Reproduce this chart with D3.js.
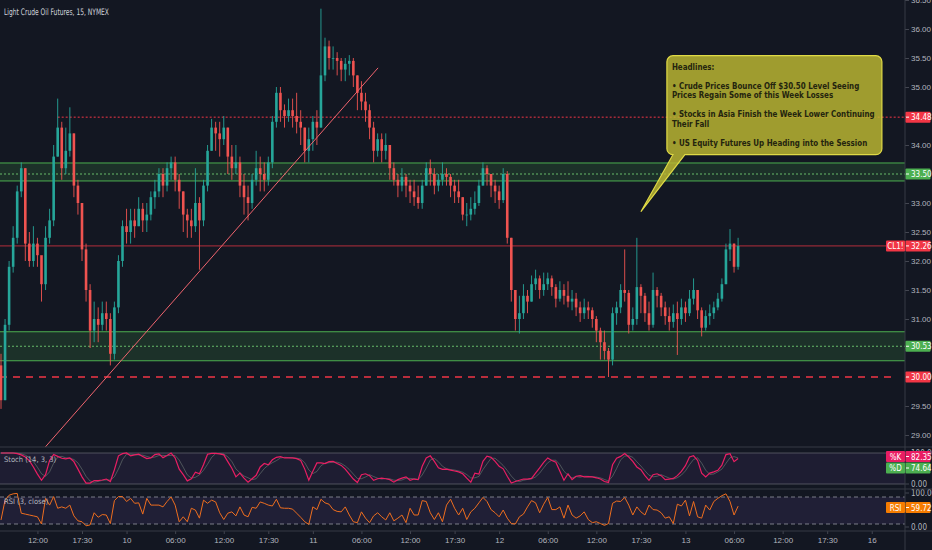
<!DOCTYPE html>
<html>
<head>
<meta charset="utf-8">
<script src="https://cdn.jsdelivr.net/npm/d3@7"></script>
<style>
  html, body { margin: 0; padding: 0; background: #131722; }
  svg { display: block; font-family: "Liberation Sans Narrow", "DejaVu Sans Condensed", sans-serif; }
  .axis text { fill: #b2b5be; font-size: 8px; }
  .axis path, .axis line { stroke: #434651; }
  .pane-label { fill: #b2b5be; font-size: 7.5px; }
</style>
</head>
<body>
<svg id="chart" width="932" height="550"></svg>
<script>
"use strict";

// 30 minute bars, open of each bar is the previous close
var firstOpen = 30.2;
var closes = [
  29.6, 30.9, 31.9, 32.4, 33.2, 33.6, 32.3, 32.0, 32.3, 32.1,
  31.6, 32.4, 32.7, 33.8, 34.3, 33.6, 33.9, 34.2, 33.3, 33.0,
  32.2, 31.5, 30.8, 31.0, 30.9, 31.1, 31.0, 30.4, 31.2, 32.0,
  32.6, 32.5, 32.7, 32.6, 32.9, 32.7, 32.8, 33.1, 33.2, 33.5,
  33.3, 33.6, 33.7, 33.4, 33.2, 32.8, 32.7, 32.6, 33.0, 32.7,
  33.3, 33.9, 34.3, 34.2, 34.1, 34.3, 33.8, 33.6, 33.7, 33.3,
  33.1, 33.0, 33.4, 33.6, 33.5, 33.4, 33.7, 34.4, 34.9, 34.6,
  34.5, 34.6, 34.5, 34.4, 34.3, 33.9, 34.1, 34.4, 34.3, 35.2,
  35.7, 35.5, 35.5, 35.45, 35.3, 35.4, 35.45, 35.2, 34.9, 34.75,
  34.6, 34.3, 33.9, 34.1, 33.9, 34.0, 33.6, 33.4, 33.3, 33.45,
  33.3, 33.2, 33.1, 33.0, 33.3, 33.6, 33.5, 33.3, 33.4, 33.5,
  33.45, 33.3, 33.2, 33.1, 32.8, 32.8, 32.9, 33.0, 33.3, 33.6,
  33.5, 33.3, 33.2, 33.05, 33.5, 32.4, 31.5, 31.0, 31.1, 31.4,
  31.3, 31.6, 31.7, 31.5, 31.6, 31.7, 31.55, 31.35, 31.5, 31.4,
  31.3, 31.35, 31.2, 31.1, 31.2, 31.15, 31.0, 30.8, 30.6, 30.45,
  30.3, 31.1, 31.2, 31.5, 31.45, 30.9, 31.0, 31.55, 31.4, 31.1,
  30.9, 31.5, 31.4, 31.2, 31.05, 30.95, 31.1, 31.0, 31.2, 31.1,
  31.35, 31.5, 31.15, 30.85, 31.05, 31.1, 31.2, 31.35, 31.6, 32.2,
  32.3, 31.9, 32.26
];
var highs = [
  30.4, 31.0, 32.0, 32.6, 33.3, 33.7, 33.6, 32.5, 32.6, 32.4,
  32.0, 32.6, 32.9, 34.0, 34.8, 34.4, 34.3, 34.65, 34.2, 33.4,
  33.0, 32.3, 31.6, 31.3, 31.2, 31.3, 31.3, 31.1, 31.3, 32.1,
  32.7, 32.9, 32.9, 32.9, 33.1, 33.0, 33.0, 33.2, 33.4, 33.6,
  33.6, 33.7, 33.8, 33.8, 33.5, 33.2, 32.9, 32.9, 33.6, 33.1,
  33.4, 34.0, 34.45, 34.4, 34.4, 34.5, 34.3, 34.0, 34.0, 33.8,
  33.5, 33.3, 33.5, 33.9, 33.8, 33.7, 33.8, 34.5, 35.0, 35.0,
  34.7, 34.8, 34.8, 34.9, 34.6, 34.3, 34.3, 34.5, 34.6, 36.35,
  35.85, 35.8, 35.7, 35.6, 35.5, 35.5, 35.55, 35.5, 35.2, 35.1,
  34.9, 34.7, 34.4, 34.2, 34.2, 34.2, 34.0, 33.7, 33.5, 33.6,
  33.5, 33.4, 33.4, 33.3, 33.4, 33.7, 33.75, 33.6, 33.5, 33.7,
  33.6, 33.5, 33.4, 33.4, 33.1, 33.0, 33.1, 33.2, 33.4, 33.7,
  33.65, 33.5, 33.4, 33.3, 33.6, 33.55, 32.4, 31.5, 31.4, 31.6,
  31.5, 31.75, 31.85, 31.75, 31.8, 31.8, 31.75, 31.6, 31.65, 31.6,
  31.65, 31.5, 31.45, 31.3, 31.35, 31.3, 31.2, 31.05, 30.85, 30.8,
  30.5, 31.2, 31.3, 31.6, 32.2, 31.5, 31.2, 32.4, 31.6, 31.45,
  31.3, 31.8, 31.55, 31.45, 31.3, 31.2, 31.25, 31.3, 31.35, 31.3,
  31.5, 31.7, 31.5, 31.2, 31.15, 31.25, 31.3, 31.45, 31.7, 32.3,
  32.55, 32.3, 32.4
];
var lows = [
  29.45, 29.6, 30.8, 31.8, 32.3, 33.1, 32.0, 31.9, 31.9, 31.9,
  31.3, 31.5, 32.3, 32.6, 33.8, 33.4, 33.5, 33.8, 33.1, 32.8,
  32.0, 31.3, 30.5, 30.6, 30.6, 30.8, 30.8, 30.2, 30.3, 31.1,
  31.9, 32.3, 32.3, 32.4, 32.6, 32.5, 32.5, 32.7, 32.9, 33.1,
  33.1, 33.2, 33.4, 33.2, 32.9, 32.5, 32.4, 32.4, 32.5, 31.85,
  32.6, 33.2, 33.9, 33.9, 33.8, 34.0, 33.5, 33.4, 33.5, 33.1,
  32.8, 32.7, 32.9, 33.3, 33.2, 33.2, 33.3, 33.6, 34.3, 34.4,
  34.3, 34.4, 34.3, 34.2, 34.0, 33.7, 33.7, 33.9, 34.0, 34.3,
  35.1, 35.3, 35.3, 35.2, 35.1, 35.1, 35.2, 35.0, 34.6, 34.6,
  34.4, 34.1, 33.7, 33.8, 33.7, 33.75, 33.4, 33.3, 33.1, 33.2,
  33.1, 33.0, 32.95, 32.9, 32.9, 33.3, 33.3, 33.15, 33.2, 33.3,
  33.3, 33.1, 33.0, 33.0, 32.7, 32.6, 32.7, 32.8, 32.95, 33.3,
  33.3, 33.1, 33.0, 32.9, 33.0, 32.3, 31.3, 30.8, 30.75, 31.0,
  31.1, 31.3, 31.5, 31.35, 31.4, 31.5, 31.4, 31.2, 31.3, 31.25,
  31.2, 31.15, 31.05, 30.95, 31.0, 31.0, 30.85, 30.6, 30.3, 30.3,
  30.0, 30.2, 30.9, 31.1, 31.3, 30.75, 30.8, 30.9, 31.1, 30.95,
  30.8, 30.85, 31.2, 31.05, 30.9, 30.8, 30.85, 30.38, 30.9, 30.95,
  31.05, 31.25, 31.0, 30.7, 30.8, 30.9, 31.0, 31.15, 31.3, 31.6,
  32.0, 31.8, 31.85
];

// indicator readings, one per bar
var stochK = [
  100, 100, 100, 100, 98, 94, 87, 75, 55, 32,
  12, 30, 76, 95, 89, 83, 81, 84, 72, 48,
  23, 3, 3, 11, 11, 13, 16, 8, 46, 91,
  98, 100, 91, 94, 96, 89, 82, 84, 95, 97,
  85, 92, 100, 84, 48, 30, 10, 17, 38, 33,
  62, 96, 99, 99, 97, 94, 72, 51, 23, 35,
  19, 6, 17, 28, 55, 66, 62, 78, 86, 88,
  84, 84, 84, 82, 76, 48, 12, 41, 68, 68,
  66, 72, 73, 66, 60, 48, 32, 16, 5, 30,
  33, 27, 12, 17, 19, 17, 14, 6, 14, 19,
  23, 12, 16, 14, 57, 84, 91, 73, 52, 47,
  48, 45, 42, 39, 33, 19, 6, 35, 32, 73,
  90, 86, 73, 57, 49, 25, 3, 8, 12, 16,
  16, 18, 35, 52, 70, 84, 76, 70, 41, 12,
  33, 14, 25, 27, 23, 24, 23, 20, 16, 8,
  5, 62, 83, 89, 98, 87, 73, 55, 46, 27,
  12, 30, 33, 27, 14, 16, 18, 27, 41, 59,
  87, 91, 76, 35, 23, 35, 39, 44, 61, 95,
  98, 72, 82.35
];
var rsi = [
  29, 73, 84, 87, 88, 44, 42, 40, 38, 36,
  20, 77, 62, 81, 55, 58, 55, 62, 38, 27,
  25, 16, 18, 45, 35, 41, 40, 21, 72, 81,
  81, 70, 77, 66, 67, 42, 77, 62, 62, 62,
  58, 70, 80, 62, 25, 36, 25, 55, 51, 33,
  73, 66, 73, 69, 45, 30, 44, 47, 38, 58,
  40, 36, 57, 55, 69, 66, 62, 60, 75, 56,
  55, 55, 53, 44, 35, 25, 19, 58, 52, 75,
  67, 64, 52, 48, 47, 58, 40, 25, 23, 47,
  33, 23, 38, 45, 36, 29, 45, 27, 33, 40,
  23, 55, 40, 40, 72, 70, 45, 30, 45, 25,
  62, 75, 55, 40, 55, 30, 47, 55, 67, 79,
  70, 52, 45, 36, 51, 33, 21, 20, 36, 42,
  58, 72, 67, 45, 64, 79, 52, 52, 58, 33,
  62, 40, 33, 38, 47, 30, 23, 25, 21, 17,
  21, 66, 71, 70, 79, 62, 40, 58, 47, 40,
  62, 52, 51, 45, 33, 36, 21, 64, 60, 73,
  38, 70, 36, 33, 62, 51, 70, 77, 83, 87,
  70, 40, 59.72
];
// last values as printed on the scale tags
var lastStochK = 82.35, lastStochD = 74.64, lastRsi = 59.72;

var timeLabels = ['12:00', '17:30', '10', '06:00', '12:00', '17:30', '11', '06:00', '12:00', '17:30',
                  '12', '06:00', '12:00', '17:30', '13', '06:00', '12:00', '17:30', '16'];
// trading hours from midnight of the 10th (one hour daily break removed)
var timeHours = [-11, -5.5, 0, 6, 12, 17.5, 23, 29, 35, 40.5, 46, 52, 58, 63.5, 69, 75, 81, 86.5, 92];
var midnightBar = 31;

var priceTicks = [29, 29.5, 30, 30.5, 31, 31.5, 32, 32.5, 33, 33.5, 34, 34.5, 35, 35.5, 36, 36.5];
var zones = [
  { lo: 33.38, mid: 33.50, hi: 33.69 },
  { lo: 30.28, mid: 30.53, hi: 30.78 }
];
var resistance = { price: 34.48, fromBar: 14 };
var support = 30.00;
var lastPrice = 32.26;
var trendLine = [{ bar: 10.9, price: 28.79 }, { bar: 93.1, price: 35.33 }];
var calloutTip = { bar: 158, price: 32.85 };
var headlines = [
  ['Headlines:'],
  ['\u2022 Crude Prices Bounce Off $30.50 Level Seeing', 'Prices Regain Some of this Week Losses'],
  ['\u2022 Stocks in Asia Finish the Week Lower Continuing', 'Their Fall'],
  ['\u2022 US Equity Futures Up Heading into the Session']
];

var UP = '#26a69a', DOWN = '#ef5350', RED = '#f23645', GREEN = '#4caf50';
var PINK = '#e91e63', ORANGE = '#f57c00';
var plotRight = 905;
var panes = {
  main:  { top: 0,   bottom: 447 },
  stoch: { top: 447, bottom: 489 },
  rsi:   { top: 489, bottom: 531 }
};

var svg = d3.select('#chart');

var x = d3.scaleLinear().domain([0, closes.length - 1]).range([1, 1 + 4.05 * (closes.length - 1)]);
var yPrice = d3.scaleLinear().domain([29, 36]).range([435, 29]);
var yStoch = d3.scaleLinear().domain([0, 100]).range([484, 453]);
var yRsi = d3.scaleLinear().domain([0, 100]).range([533, 488]);

var stochD = stochK.map(function(v, i) {
  return d3.mean(stochK.slice(Math.max(0, i - 2), i + 1));
});

// squeeze a group of texts sideways so its widest line fits, like the narrow chart font
function fitWidth(g, x0, maxWidth) {
  var widest = d3.max(g.selectAll('text').nodes(), function(n) { return n.getComputedTextLength(); });
  var sx = widest > maxWidth ? maxWidth / widest : 1;
  g.attr('transform', 'translate(' + x0 + ',0) scale(' + sx + ',1)');
}

function addClip(id, pane) {
  svg.append('clipPath').attr('id', id).append('rect')
    .attr('x', 0).attr('y', pane.top)
    .attr('width', plotRight).attr('height', pane.bottom - pane.top);
}

function drawLevels(g) {
  zones.forEach(function(z) {
    g.append('rect')
      .attr('x', 0).attr('width', plotRight)
      .attr('y', yPrice(z.hi)).attr('height', yPrice(z.lo) - yPrice(z.hi))
      .attr('fill', GREEN).attr('fill-opacity', 0.17);
    [z.lo, z.hi].forEach(function(p) {
      g.append('line').attr('x1', 0).attr('x2', plotRight)
        .attr('y1', yPrice(p)).attr('y2', yPrice(p))
        .attr('stroke', GREEN).attr('stroke-width', 1);
    });
    g.append('line').attr('x1', 0).attr('x2', plotRight)
      .attr('y1', yPrice(z.mid)).attr('y2', yPrice(z.mid))
      .attr('stroke', '#66bb6a').attr('stroke-width', 1).attr('stroke-dasharray', '2,2');
  });

  g.append('line')
    .attr('x1', x(resistance.fromBar)).attr('x2', plotRight)
    .attr('y1', yPrice(resistance.price)).attr('y2', yPrice(resistance.price))
    .attr('stroke', RED).attr('stroke-width', 1).attr('stroke-dasharray', '2,2');

  g.append('line')
    .attr('x1', 0).attr('x2', plotRight - 8)
    .attr('y1', yPrice(support)).attr('y2', yPrice(support))
    .attr('stroke', RED).attr('stroke-width', 1.5).attr('stroke-dasharray', '7,6');

  g.append('line')
    .attr('x1', 0).attr('x2', plotRight)
    .attr('y1', yPrice(lastPrice)).attr('y2', yPrice(lastPrice))
    .attr('stroke', RED).attr('stroke-width', 0.8).attr('stroke-opacity', 0.9);
}

function drawCandles(g) {
  var bars = closes.map(function(c, i) {
    return { i: i, open: i ? closes[i - 1] : firstOpen, close: c, high: highs[i], low: lows[i] };
  });
  var candle = g.selectAll('g.candle').data(bars).enter().append('g')
    .attr('class', 'candle')
    .attr('fill', function(d) { return d.close >= d.open ? UP : DOWN; })
    .attr('stroke', function(d) { return d.close >= d.open ? UP : DOWN; });
  candle.append('line')
    .attr('x1', function(d) { return x(d.i); }).attr('x2', function(d) { return x(d.i); })
    .attr('y1', function(d) { return yPrice(d.high); }).attr('y2', function(d) { return yPrice(d.low); })
    .attr('stroke-width', 0.9);
  candle.append('rect')
    .attr('stroke', 'none')
    .attr('x', function(d) { return x(d.i) - 1.3; }).attr('width', 2.6)
    .attr('y', function(d) { return yPrice(Math.max(d.open, d.close)); })
    .attr('height', function(d) { return Math.max(0.8, Math.abs(yPrice(d.open) - yPrice(d.close))); });
}

function drawTrendLine(g) {
  g.append('line')
    .attr('x1', x(trendLine[0].bar)).attr('y1', yPrice(trendLine[0].price))
    .attr('x2', x(trendLine[1].bar)).attr('y2', yPrice(trendLine[1].price))
    .attr('stroke', '#f0646e').attr('stroke-width', 1);
}

function drawCallout(g) {
  var tx = x(calloutTip.bar), ty = yPrice(calloutTip.price);
  var left = tx + 26, top = ty - 156, width = 215, right = left + width, bottom = top + 99, r = 6;
  var p = d3.path();
  p.moveTo(left + r, top);
  p.arcTo(right, top, right, bottom, r);
  p.arcTo(right, bottom, left, bottom, r);
  p.lineTo(left + 18, bottom);
  p.lineTo(tx, ty);
  p.lineTo(left + r, bottom);
  p.arcTo(left, bottom, left, top, r);
  p.arcTo(left, top, right, top, r);
  p.closePath();
  g.append('path').attr('d', p.toString())
    .attr('fill', 'rgb(190,186,50)').attr('fill-opacity', 0.82)
    .attr('stroke', 'rgb(224,218,70)').attr('stroke-width', 1.2);

  var lineY = top + 14;
  var text = g.append('g').attr('fill', '#24240e').attr('font-size', '9.5px').attr('font-weight', 'bold');
  headlines.forEach(function(para, k) {
    if (k > 0) lineY += 9.5;
    para.forEach(function(line, j) {
      if (j > 0) lineY += 9.5;
      text.append('text').attr('x', 0).attr('y', lineY).text(line);
    });
    lineY += 9.5;
  });
  fitWidth(text, left + 5, width - 12);
}

function drawPriceAxis() {
  var axis = d3.axisRight(yPrice).tickValues(priceTicks).tickSize(4).tickPadding(2)
    .tickFormat(d3.format('.2f'));
  svg.append('g').attr('class', 'axis').attr('transform', 'translate(' + plotRight + ',0)').call(axis)
    .select('.domain').remove();
}

function drawTimeAxis() {
  var bars = timeHours.map(function(h) { return midnightBar + 2 * h; });
  var axis = d3.axisBottom(x).tickValues(bars).tickSize(3).tickPadding(3)
    .tickFormat(function(d, i) { return timeLabels[i]; });
  svg.append('g').attr('class', 'axis').attr('transform', 'translate(0,' + panes.rsi.bottom + ')').call(axis)
    .select('.domain').remove();
}

function tag(y, value, color, name) {
  var g = svg.append('g').attr('transform', 'translate(0,' + y + ')');
  if (name) {
    g.append('rect').attr('x', plotRight - 19).attr('y', -5.5).attr('width', 19).attr('height', 11)
      .attr('rx', 1).attr('fill', color);
    g.append('text').attr('x', plotRight - 9.5).attr('y', 3).attr('text-anchor', 'middle')
      .attr('fill', '#fff').attr('font-size', '8px').text(name);
  }
  g.append('rect').attr('x', plotRight + 0.5).attr('y', -5.5).attr('width', 25).attr('height', 11)
    .attr('rx', 1).attr('fill', color);
  g.append('line').attr('x1', plotRight + 1).attr('x2', plotRight + 4).attr('y1', 0).attr('y2', 0)
    .attr('stroke', '#fff');
  g.append('text').attr('x', plotRight + 6).attr('y', 3).attr('fill', '#fff')
    .attr('font-size', '8px').text(d3.format('.2f')(value));
}

function paneScaleLabels(pane, scale, values) {
  values.forEach(function(v) {
    var y = Math.max(pane.top + 4, Math.min(pane.bottom - 4, scale(v)));
    svg.append('line').attr('x1', plotRight).attr('x2', plotRight + 4).attr('y1', y).attr('y2', y)
      .attr('stroke', '#434651');
    svg.append('text').attr('x', plotRight + 6).attr('y', y + 3)
      .attr('fill', '#b2b5be').attr('font-size', '8px').text(d3.format('.2f')(v));
  });
}

function drawStoch() {
  var g = svg.append('g').attr('clip-path', 'url(#clip-stoch)');
  g.append('rect').attr('x', 0).attr('width', plotRight)
    .attr('y', yStoch(100)).attr('height', yStoch(0) - yStoch(100))
    .attr('fill', '#7e57c2').attr('fill-opacity', 0.1);
  [0, 100].forEach(function(v) {
    g.append('line').attr('x1', 0).attr('x2', plotRight).attr('y1', yStoch(v)).attr('y2', yStoch(v))
      .attr('stroke', '#5d606b').attr('stroke-width', 0.8);
  });
  var line = d3.line().x(function(d, i) { return x(i); }).y(function(d) { return yStoch(d); });
  g.append('path').datum(stochD).attr('d', line)
    .attr('fill', 'none').attr('stroke', '#8a9a8c').attr('stroke-opacity', 0.45).attr('stroke-width', 1);
  g.append('path').datum(stochK).attr('d', line)
    .attr('fill', 'none').attr('stroke', PINK).attr('stroke-width', 1.2);
  svg.append('text').attr('class', 'pane-label').attr('x', 4).attr('y', 462).text('Stoch (14, 3, 3)');
  paneScaleLabels(panes.stoch, yStoch, [100, 0]);
}

function drawRsi() {
  var g = svg.append('g').attr('clip-path', 'url(#clip-rsi)');
  g.append('rect').attr('x', 0).attr('width', plotRight)
    .attr('y', yRsi(80)).attr('height', yRsi(20) - yRsi(80))
    .attr('fill', '#7e57c2').attr('fill-opacity', 0.13);
  [80, 20].forEach(function(v) {
    g.append('line').attr('x1', 0).attr('x2', plotRight).attr('y1', yRsi(v)).attr('y2', yRsi(v))
      .attr('stroke', '#9598a1').attr('stroke-width', 0.8).attr('stroke-dasharray', '4,3');
  });
  var line = d3.line().x(function(d, i) { return x(i); }).y(function(d) { return yRsi(d); });
  g.append('path').datum(rsi).attr('d', line)
    .attr('fill', 'none').attr('stroke', '#ee6e1f').attr('stroke-width', 1);
  svg.append('text').attr('class', 'pane-label').attr('x', 4).attr('y', 504).text('RSI (3, close)');
  paneScaleLabels(panes.rsi, yRsi, [100, 0]);
}

addClip('clip-main', panes.main);
addClip('clip-stoch', panes.stoch);
addClip('clip-rsi', panes.rsi);

var main = svg.append('g').attr('clip-path', 'url(#clip-main)');
drawLevels(main);
drawCandles(main);
drawTrendLine(main);
drawCallout(main);

var title = svg.append('g').attr('fill', '#d1d4dc').attr('font-size', '9px');
title.append('text').attr('x', 0).attr('y', 15).text('Light Crude Oil Futures, 15, NYMEX');
fitWidth(title, 4, 105);

drawPriceAxis();
drawStoch();
drawRsi();
drawTimeAxis();

// pane separators and price scale border
[panes.main.bottom, panes.stoch.bottom, panes.rsi.bottom].forEach(function(y) {
  svg.append('line').attr('x1', 0).attr('x2', 932).attr('y1', y).attr('y2', y)
    .attr('stroke', '#363a45').attr('stroke-width', 1);
});
svg.append('line').attr('x1', plotRight).attr('x2', plotRight).attr('y1', 0).attr('y2', 550)
  .attr('stroke', '#363a45');

tag(yPrice(resistance.price), resistance.price, RED);
tag(yPrice(zones[0].mid), zones[0].mid, GREEN);
tag(yPrice(lastPrice), lastPrice, RED, 'CL1!');
tag(yPrice(zones[1].mid), zones[1].mid, GREEN);
tag(yPrice(support), support, RED);
tag(456.5, lastStochK, PINK, '%K');
tag(468, lastStochD, GREEN, '%D');
tag(507.5, lastRsi, ORANGE, 'RSI');
</script>
</body>
</html>
